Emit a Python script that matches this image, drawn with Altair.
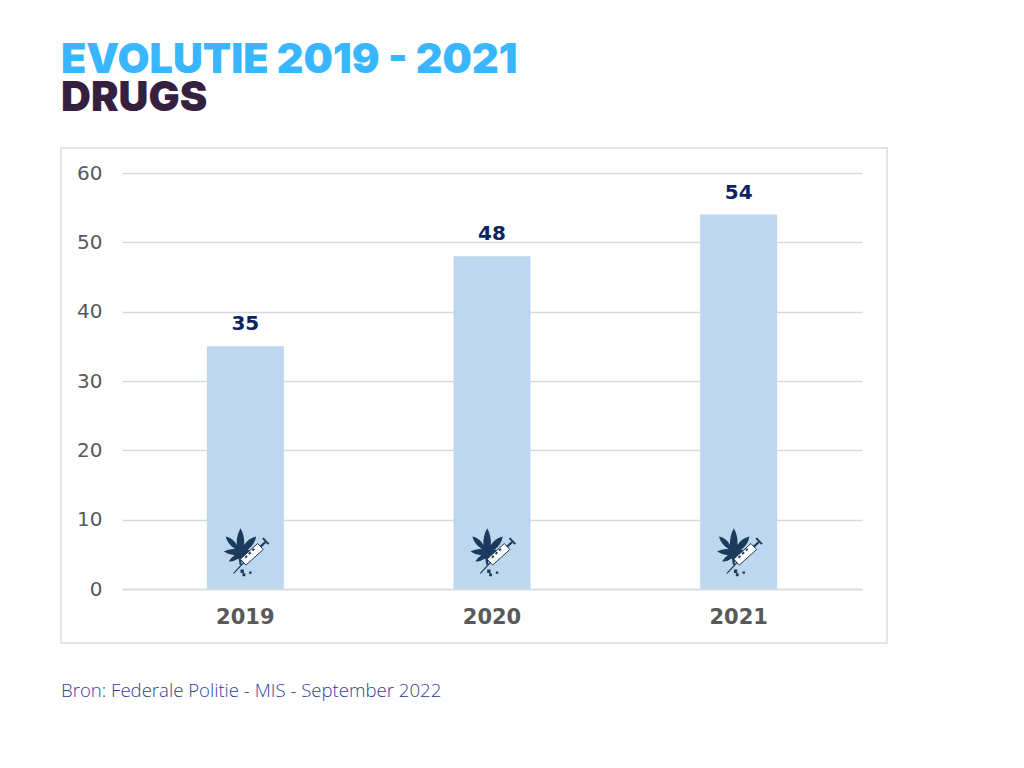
import altair as alt
import pandas as pd

years = ["2019", "2020", "2021"]
values = [35, 48, 54]
icon_level = [5.3, 5.3, 5.3]
y_ticks = [0, 10, 20, 30, 40, 50, 60]

LEAF = ("M-0.2 -1 Q-0.02 -0.68 -0.05 -0.3 Q0.12 -0.58 0.45 -0.66 Q0.38 -0.3 0.1 -0.1 "
        "Q0.3 -0.1 0.42 0 Q0.15 0.22 -0.12 0.24 L-0.18 0.52 L-0.24 0.52 L-0.28 0.26 "
        "Q-0.5 0.4 -0.69 0.38 Q-0.6 0.22 -0.45 0.12 Q-0.72 0.1 -0.9 -0.03 Q-0.65 -0.17 -0.42 -0.13 "
        "Q-0.75 -0.35 -0.82 -0.66 Q-0.5 -0.6 -0.36 -0.3 Q-0.38 -0.68 -0.2 -1 Z")
BODY = "M0.026 0.534 L-0.206 0.286 L0.514 -0.364 L0.746 -0.116 Z"
DARK = ("M-0.09 0.41 L-0.51 0.87 L-0.47 0.9 L-0.05 0.45 Z "
        "M0.6 -0.27 L0.8 -0.45 L0.86 -0.39 L0.66 -0.2 Z "
        "M0.7 -0.56 L0.76 -0.61 L1.0 -0.36 L0.94 -0.31 Z "
        "M-0.03 0.2 L0.02 0.26 L0.1 0.18 L0.05 0.13 Z "
        "M0.12 0.04 L0.17 0.1 L0.25 0.03 L0.2 -0.03 Z "
        "M0.27 -0.1 L0.32 -0.04 L0.4 -0.11 L0.35 -0.17 Z "
        "M-0.2 0.72 L-0.06 0.72 L-0.06 0.86 L-0.2 0.86 Z "
        "M-0.12 0.88 L0 0.88 L0 1 L-0.12 1 Z "
        "M0.16 0.8 L0.26 0.8 L0.26 0.9 L0.16 0.9 Z")

df = pd.DataFrame({"year": years, "value": values, "level": icon_level})
frame_df = pd.DataFrame({"a": [0]})
source_df = pd.DataFrame({"t": ["Bron: Federale Politie - MIS - September 2022"]})

x = alt.X("year:N", scale=alt.Scale(paddingInner=0.688, paddingOuter=0.344),
          axis=alt.Axis(title=None, labelAngle=0, labelFont="DejaVu Sans", labelFontWeight="bold",
                        labelFontSize=21, labelColor="#595959", labelPadding=17, ticks=False,
                        domainColor="#d9d9d9", domainWidth=1.5, grid=False))
y_scale = alt.Scale(domain=[0, 60], nice=False)
y_axis = alt.Axis(title=None, values=y_ticks, labelFont="DejaVu Sans", labelFontSize=20,
                  labelColor="#595959", labelPadding=20, ticks=False, domain=False,
                  gridColor="#d9d9d9", gridWidth=1.5)
y = alt.Y("value:Q", scale=y_scale, axis=y_axis)

frame = alt.Chart(frame_df).mark_rect(fillOpacity=0, stroke="#dcdcdc", strokeWidth=1.5).encode(
    x=alt.value(-61), x2=alt.value(765), y=alt.value(-25), y2=alt.value(470))
bars = alt.Chart(df).mark_bar(color="#bdd7ee").encode(x=x, y=y)
labels = alt.Chart(df).mark_text(dy=-22, font="DejaVu Sans", fontWeight="bold", fontSize=20,
                                 color="#0b2560").encode(x=x, y=y, text="value:Q")

def icon(path, fill, stroke=None):
    kw = dict(shape=path, size=2304, filled=True, fill=fill, opacity=1)
    if stroke:
        kw.update(stroke=stroke, strokeWidth=1)
    else:
        kw.update(strokeWidth=0)
    return alt.Chart(df).mark_point(**kw).encode(
        x=x, y=alt.Y("level:Q", scale=y_scale, axis=y_axis))

source = alt.Chart(source_df).mark_text(align="left", baseline="alphabetic", font="Open Sans",
                                        fontSize=18.6, fontWeight=300, color="#2f3e9e").encode(
    x=alt.value(-61), y=alt.value(524), text="t:N")

chart = alt.layer(frame, bars, labels, icon(LEAF, "#1b3a5c"), icon(BODY, "white", "#1b3a5c"),
                  icon(DARK, "#1b3a5c"), source).properties(
    width=740, height=416,
    autosize=alt.AutoSizeParams(type="none"),
    padding={"left": 114, "top": 165, "right": 140, "bottom": 120},
    background="white",
    title=alt.TitleParams(
        text="EVOLUTIE 2019 - 2021", subtitle="DRUGS", anchor="start", frame="group", dx=-61,
        offset=28, font="Inter", fontSize=41.4, fontWeight=900, color="#38b6ff",
        subtitleFont="Inter", subtitleFontSize=41.4, subtitleFontWeight=900, subtitleColor="#35213f",
        subtitlePadding=-4),
).configure_view(stroke=None)

chart.save("out.html", embed_options={"renderer": "svg", "actions": False})
